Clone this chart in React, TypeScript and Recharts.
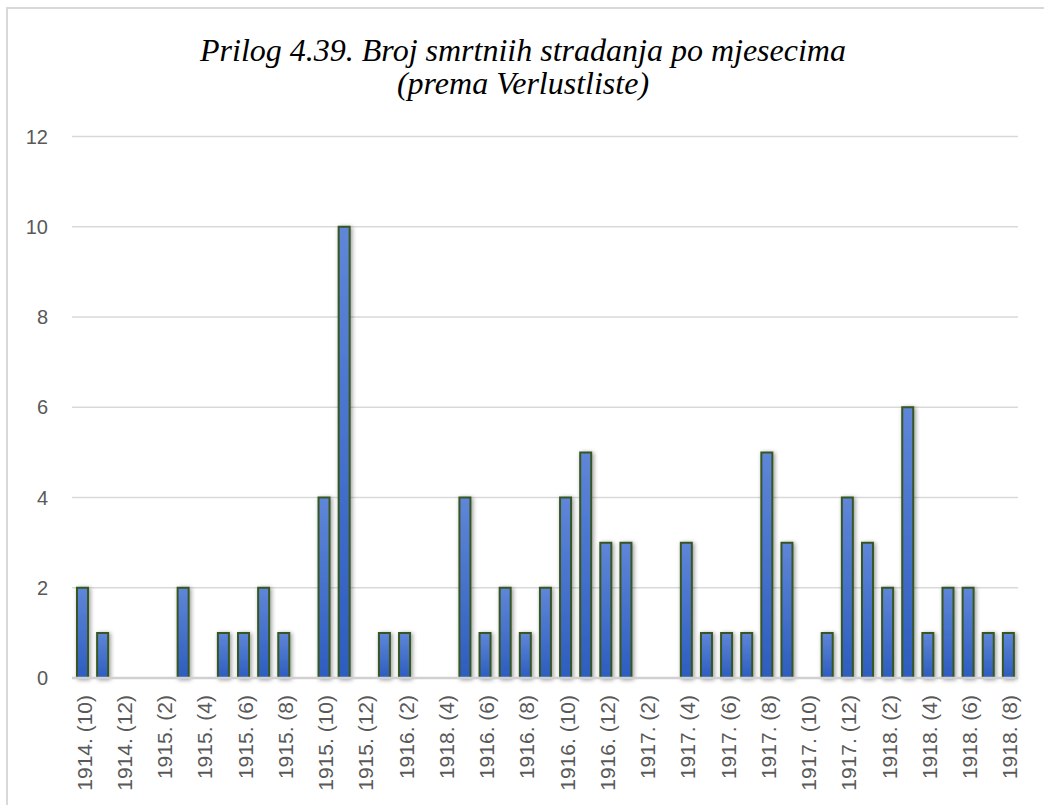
import React from "react";
import { Bar, BarChart, CartesianGrid, XAxis, YAxis } from "recharts";

const months = [
  "1914. (10)", "1914. (11)", "1914. (12)",
  "1915. (1)", "1915. (2)", "1915. (3)", "1915. (4)", "1915. (5)", "1915. (6)",
  "1915. (7)", "1915. (8)", "1915. (9)", "1915. (10)", "1915. (11)", "1915. (12)",
  "1916. (1)", "1916. (2)", "1916. (3)", "1918. (4)", "1916. (5)", "1916. (6)",
  "1916. (7)", "1916. (8)", "1916. (9)", "1916. (10)", "1916. (11)", "1916. (12)",
  "1917. (1)", "1917. (2)", "1917. (3)", "1917. (4)", "1917. (5)", "1917. (6)",
  "1917. (7)", "1917. (8)", "1917. (9)", "1917. (10)", "1917. (11)", "1917. (12)",
  "1918. (1)", "1918. (2)", "1918. (3)", "1918. (4)", "1918. (5)", "1918. (6)",
  "1918. (7)", "1918. (8)",
];

const deaths = [
  2, 1, 0,
  0, 0, 2, 0, 1, 1, 2, 1, 0, 4, 10, 0,
  1, 1, 0, 0, 4, 1, 2, 1, 2, 4, 5, 3,
  3, 0, 0, 3, 1, 1, 1, 5, 3, 0, 1, 4,
  3, 2, 6, 1, 2, 2, 1, 1,
];

const yTicks = [0, 2, 4, 6, 8, 10, 12];

const titleLines = ["Prilog 4.39. Broj smrtniih stradanja po mjesecima", "(prema Verlustliste)"];

const data = months.map((month, i) => ({ month, value: deaths[i] }));

const axisFont = "'Liberation Sans', Arial, sans-serif";

function MonthTick(props: any) {
  const { x, y, payload } = props;
  return (
    <text
      x={x + 2}
      y={y + 9}
      dy="0.36em"
      transform={`rotate(-90, ${x + 2}, ${y + 9})`}
      textAnchor="end"
      fill="#595959"
      fontSize={21}
      fontFamily={axisFont}
    >
      {payload.value}
    </text>
  );
}

export default function App() {
  return (
    <div style={{ position: "absolute", left: 0, top: 0, width: 1044, height: 805, overflow: "hidden", background: "#fff" }}>
      <div
        style={{
          position: "absolute",
          left: 6,
          top: 7,
          width: 1100,
          height: 900,
          border: "2px solid #d9d9d9",
        }}
      />
      <div
        style={{
          position: "absolute",
          left: 0,
          top: 34,
          width: 1046,
          textAlign: "center",
          fontFamily: "'Liberation Serif', 'Times New Roman', serif",
          fontStyle: "italic",
          fontSize: 32,
          lineHeight: "33px",
          color: "#000",
        }}
      >
        {titleLines.map((line) => (
          <div key={line}>{line}</div>
        ))}
      </div>
      <div style={{ position: "absolute", left: 0, top: 0 }}>
        <BarChart width={1044} height={805} data={data} margin={{ top: 136.5, right: 26, bottom: 0, left: 0 }}>
          <defs>
            <linearGradient id="barFill" x1="0" y1="0" x2="0" y2="1">
              <stop offset="0%" stopColor="#5f86d8" />
              <stop offset="100%" stopColor="#2d5dbf" />
            </linearGradient>
            <filter id="barShadow" x="-60%" y="-10%" width="220%" height="130%">
              <feDropShadow dx="1.5" dy="1" stdDeviation="2.2" floodColor="#000" floodOpacity="0.4" />
            </filter>
          </defs>
          <CartesianGrid vertical={false} stroke="#d9d9d9" strokeWidth={1.5} />
          <XAxis
            dataKey="month"
            interval={1}
            height={127}
            tickLine={false}
            axisLine={{ stroke: "#d0d0d0", strokeWidth: 2.5 }}
            tick={<MonthTick />}
          />
          <YAxis
            width={72}
            domain={[0, 12]}
            ticks={yTicks}
            axisLine={false}
            tickLine={false}
            tickMargin={18}
            tick={{ fill: "#595959", fontSize: 20, fontFamily: axisFont }}
          />
          <Bar
            dataKey="value"
            barSize={11}
            fill="url(#barFill)"
            stroke="#375623"
            strokeWidth={2}
            filter="url(#barShadow)"
            isAnimationActive={false}
          />
        </BarChart>
      </div>
    </div>
  );
}
